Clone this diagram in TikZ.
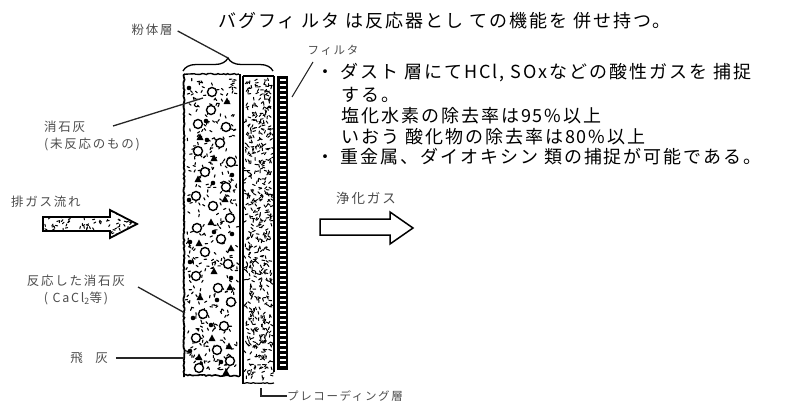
\documentclass[tikz,border=0pt]{standalone}
\usepackage{fontspec}
\setmainfont{Noto Sans CJK JP}
\newfontfamily\bodyfont[LetterSpace=11]{Noto Sans CJK JP}
\newfontfamily\labelfont[LetterSpace=14]{Noto Sans CJK JP}
\usetikzlibrary{decorations.pathreplacing,decorations.pathmorphing}

\begin{document}
\begin{tikzpicture}[x=1pt,y=-1pt,
  body/.style={inner sep=0pt,anchor=west,font=\bodyfont\fontsize{18}{20}\selectfont},
  lbl/.style={inner sep=0pt,font=\labelfont\fontsize{12.5}{17}\selectfont,text=black!70},
  leader/.style={line width=1.3pt,black!85},
  rough/.style={decorate,decoration={random steps,segment length=2pt,amplitude=0.6pt}},
  grain/.style={line width=1.1pt,line cap=round},
  lime/.style={circle,draw,fill=white,line width=1.4pt,minimum size=9pt,inner sep=0pt},
  ash/.style={fill=black},
  flowarrow/.style={line width=1.8pt,line join=miter},
]
\useasboundingbox (0,0) rectangle (790,407);

% ---------- headline and notes ----------
\node[body] (title) at (218,21) {バグフィ ルタ は反応器とし ての機能を 併せ持つ。};
\node[body] (b1) at (316,73) {・ ダスト 層にてHCl, SOxなどの酸性ガスを 捕捉};
\node[body] (b1b) at (341,95) {する。};
\node[body] (b2) at (341,116) {塩化水素の除去率は95\%以上};
\node[body] (b3) at (341,137) {いおう 酸化物の除去率は80\%以上};
\node[body] (b4) at (316,157) {・ 重金属、ダイオキシン 類の捕捉が可能である。};

% ---------- powder layer (slaked lime, reacted lime, fly ash) ----------
\pgfmathsetseed{12}
\foreach \i in {1,...,380}{
  \pgfmathsetmacro\px{187+rnd*50}
  \pgfmathsetmacro\py{77+rnd*297}
  \pgfmathsetmacro\pa{rnd*360}
  \draw[grain] (\px,\py) -- ++(\pa:2.4);
}
\foreach \cx/\cy in {212/92,211/110,198/124,226/127,220/143,198/151,231/162,205/172,
  226/187,196/196,213/206,230/218,197/228,221/239,205/252,228/264,196/276,218/288,
  231/302,203/314,224/326,196/338,217/350,230/361,199/368}
  \node[lime] at (\cx,\cy) {};
\foreach \tx/\ty in {227/101,200/137,214/158,198/179,225/199,211/222,199/243,231/248,
  214/271,200/297,230/287,212/338,229/346,199/357,226/372}
  \fill[ash] (\tx-3.5,\ty+3) -- (\tx+3.5,\ty+3) -- (\tx,\ty-3.5) -- cycle;
\foreach \dx/\dy in {189/88,206/121,213/183,189/200,232/234,190/262,217/300,
  193/318,211/325,232/175,190/242,221/362,207/140,231/278,214/232,190/351}
  \fill (\dx,\dy) circle (2.3pt);
\draw[line width=1.8pt,rough] (184,74) -- (184,377);
\draw[line width=1.6pt,rough] (184,375) -- (240,376);
\draw[line width=1.4pt,rough] (184,74) -- (239,74);
\draw[line width=1.4pt] (240,74) -- (240,376);

% ---------- precoat layer ----------
\foreach \i in {1,...,560}{
  \pgfmathsetmacro\px{245+rnd*27}
  \pgfmathsetmacro\py{79+rnd*300}
  \pgfmathsetmacro\pa{rnd*360}
  \draw[line width=1pt,line cap=round] (\px,\py) -- ++(\pa:2.8);
}
\draw[line width=1.4pt] (243,76) -- (274,76);
\draw[line width=1.2pt] (243,76) -- (243,384);
\draw[line width=1.2pt,rough] (243,383) -- (274,383);
\draw[line width=1.2pt] (274,76) -- (274,372);

% ---------- filter cloth ----------
\fill (277,76) rectangle (288,370);
\foreach \fy in {79,84,...,366}
  \fill[white] (279.5,\fy) rectangle (285.5,\fy+2.4);

% ---------- layer brace ----------
\draw[line width=1.3pt,decorate,decoration={brace,amplitude=13pt}] (183,71) -- (273,71);
\coordinate (bracetip) at (228,58);
\coordinate (limept) at (203,98);
\coordinate (reactpt) at (185,313);
\coordinate (ashpt) at (184,358);
\coordinate (filterpt) at (292,97);
\coordinate (precoatpt) at (261,388);

% ---------- labels ----------
\node[lbl] (powder) at (152,30) {粉体層};
\draw[leader] (powder.east) ++(5,1) coordinate (powderend) -- (bracetip);
\node[lbl,font=\labelfont\fontsize{11.5}{12}\selectfont] (filter) at (333,50) {フィルタ};
\draw[leader,line width=1.1pt] (313,62) coordinate (filterend) -- (filterpt);
\node[lbl,anchor=west,align=left] (lime) at (44,136) {消石灰\\(未反応のもの)};
\draw[leader] (113,126) coordinate (limeend) -- (limept);
\node[lbl,align=center] (react) at (76,290) {反応した消石灰\\( CaCl\textsubscript{2}等)};
\draw[leader] (138,287) coordinate (reactend) -- (reactpt);
\node[lbl] (flyash) at (89,358) {飛\hspace{1em}灰};
\draw[leader] (flyash.east) ++(8,0) coordinate (ashend) -- (ashpt);
\node[lbl,anchor=west,font=\labelfont\fontsize{11.5}{14}\selectfont] (precoat) at (287,396) {プレコーディング層};
\draw[leader,line width=1.1pt] (precoat.west) -| (precoatpt);

% ---------- purified gas arrow ----------
\node[lbl,font=\labelfont\fontsize{13.5}{15}\selectfont] (outlbl) at (366,198) {浄化ガス};
\draw[flowarrow,line width=1.5pt] (320,219) -- (390,219) -- (390,212) -- (413,228)
  -- (390,244) -- (390,235) -- (320,235) -- cycle;

% ---------- exhaust gas arrow ----------
\node[lbl,anchor=west] (inlbl) at (11,202) {排ガス流れ};
\begin{scope}
  \clip (43,217) -- (110,217) -- (110,210) -- (137,224) -- (110,238) -- (110,231) -- (43,231) -- cycle;
  \foreach \i in {1,...,110}{
    \pgfmathsetmacro\px{44+rnd*92}
    \pgfmathsetmacro\py{211+rnd*27}
    \pgfmathsetmacro\pa{rnd*360}
    \draw[line width=1pt,line cap=round] (\px,\py) -- ++(\pa:2.2);
  }
\end{scope}
\draw[flowarrow] (43,217) -- (110,217) -- (110,210) -- (137,224) -- (110,238)
  -- (110,231) -- (43,231) -- cycle;
\end{tikzpicture}
\end{document}
